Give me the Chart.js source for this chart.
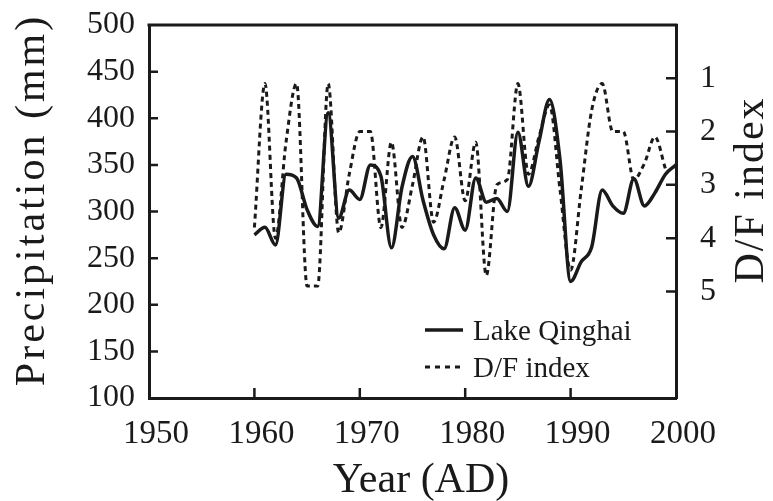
<!DOCTYPE html>
<html>
<head>
<meta charset="utf-8">
<script src="https://cdn.jsdelivr.net/npm/chart.js@4.4.1/dist/chart.umd.min.js"></script>
<style>
  html, body { margin: 0; padding: 0; background: #fff; }
  #wrap { width: 773px; height: 501px; }
</style>
</head>
<body>
<div id="wrap"><canvas id="chart" width="773" height="501"></canvas></div>
<script>
// yearly series
const years = [1960, 1961, 1962, 1963, 1964, 1965, 1966, 1967, 1968, 1969,
  1970, 1971, 1972, 1973, 1974, 1975, 1976, 1977, 1978, 1979,
  1980, 1981, 1982, 1983, 1984, 1985, 1986, 1987, 1988, 1989,
  1990, 1991, 1992, 1993, 1994, 1995, 1996, 1997, 1998, 1999, 2000];

// Lake Qinghai precipitation (mm)
const precip = [275, 283, 264, 340, 336, 302, 284, 406, 293, 323,
  313, 350, 338, 261, 326, 359, 312, 275, 260, 304,
  280, 336, 310, 314, 300, 385, 327, 375, 420, 355,
  225, 246, 262, 323, 306, 298, 335, 306, 320, 340, 350];

// D/F index (1960-1999)
const dfIndex = [3.8, 1.1, 4.0, 2.2, 1.1, 4.9, 4.9, 1.1, 3.9, 2.8,
  2.0, 2.0, 3.8, 2.2, 3.8, 3.0, 2.1, 3.7, 2.9, 2.1,
  3.3, 2.2, 4.7, 3.0, 2.9, 1.1, 2.8, 2.1, 1.5, 3.1,
  4.6, 3.1, 1.6, 1.1, 2.0, 2.0, 2.9, 2.6, 2.1, 2.7];

const xTicks = [1950, 1960, 1970, 1980, 1990, 2000];
const precipTicks = [100, 150, 200, 250, 300, 350, 400, 450, 500];
const dfTicks = [1, 2, 3, 4, 5];

const INK = "#1a1a1a";
const SERIF = "'Liberation Serif', 'Times New Roman', serif";

// fixed box sizes so the plot area sits where it does in the figure
function fixBox(w, h) {
  return (s) => {
    if (w) s.width = w;
    if (h) s.height = h;
    s.paddingTop = 0;
    s.paddingBottom = 0;
    s.paddingLeft = 0;
    s.paddingRight = 0;
  };
}

// inward tick marks, top edge, titles and the legend
const extras = {
  id: "extras",
  afterDraw(chart) {
    const { ctx, chartArea: a, scales } = chart;
    ctx.save();
    ctx.strokeStyle = INK;
    ctx.lineWidth = 3;
    ctx.beginPath();
    ctx.moveTo(a.left - 1.5, a.top);
    ctx.lineTo(a.right + 1.5, a.top);
    ctx.stroke();

    ctx.lineWidth = 2.5;
    ctx.beginPath();
    xTicks.slice(1, -1).forEach((v) => {
      const px = scales.x.getPixelForValue(v);
      ctx.moveTo(px, a.bottom);
      ctx.lineTo(px, a.bottom - 10);
    });
    precipTicks.slice(1, -1).forEach((v) => {
      const py = scales.y.getPixelForValue(v);
      ctx.moveTo(a.left, py);
      ctx.lineTo(a.left + 9, py);
    });
    dfTicks.forEach((v) => {
      const py = scales.y1.getPixelForValue(v);
      ctx.moveTo(a.right, py);
      ctx.lineTo(a.right - 10, py);
    });
    ctx.stroke();

    ctx.fillStyle = INK;
    ctx.textAlign = "center";
    ctx.textBaseline = "middle";
    ctx.font = "42px " + SERIF;
    ctx.fillText("Year (AD)", 421, 481);

    ctx.letterSpacing = "3px";
    ctx.save();
    ctx.translate(33, 200);
    ctx.rotate(-Math.PI / 2);
    ctx.fillText("Precipitation (mm)", 0, 0);
    ctx.restore();

    ctx.letterSpacing = "2px";
    ctx.save();
    ctx.translate(752, 190);
    ctx.rotate(-Math.PI / 2);
    ctx.fillText("D/F index", 0, 0);
    ctx.restore();
    ctx.letterSpacing = "0px";

    // legend
    ctx.lineWidth = 3.5;
    ctx.beginPath();
    ctx.moveTo(425, 330);
    ctx.lineTo(463, 330);
    ctx.stroke();
    ctx.lineWidth = 3;
    ctx.setLineDash([5, 5]);
    ctx.beginPath();
    ctx.moveTo(425, 367);
    ctx.lineTo(463, 367);
    ctx.stroke();
    ctx.setLineDash([]);
    ctx.textAlign = "left";
    ctx.font = "29px " + SERIF;
    ctx.fillText("Lake Qinghai", 473, 332);
    ctx.fillText("D/F index", 473, 369);
    ctx.restore();
  },
};

const ctx = document.getElementById("chart").getContext("2d");

new Chart(ctx, {
  type: "line",
  data: {
    datasets: [
      {
        label: "Lake Qinghai",
        data: years.map((yr, i) => ({ x: yr, y: precip[i] })),
        yAxisID: "y",
        borderColor: INK,
        borderWidth: 3.5,
        pointRadius: 0,
        cubicInterpolationMode: "monotone",
        fill: false,
      },
      {
        label: "D/F index",
        data: dfIndex.map((v, i) => ({ x: years[i], y: v })),
        yAxisID: "y1",
        borderColor: INK,
        borderWidth: 3,
        borderDash: [5, 4],
        pointRadius: 0,
        cubicInterpolationMode: "monotone",
        fill: false,
      },
    ],
  },
  options: {
    responsive: false,
    animation: false,
    layout: { padding: { top: 25, left: 0, right: 0, bottom: 0 } },
    plugins: {
      legend: { display: false },
      tooltip: { enabled: false },
    },
    scales: {
      x: {
        type: "linear",
        min: 1950,
        max: 2000,
        afterFit: fixBox(0, 103),
        afterBuildTicks: (s) => { s.ticks = xTicks.map((v) => ({ value: v })); },
        grid: { display: false, drawTicks: false },
        border: { display: true, color: INK, width: 3 },
        ticks: {
          padding: 17,
          labelOffset: 7,
          color: INK,
          font: { family: SERIF, size: 33 },
          maxRotation: 0,
          callback: (v) => String(v),
        },
      },
      y: {
        position: "left",
        min: 100,
        max: 500,
        afterFit: fixBox(149, 0),
        afterBuildTicks: (s) => { s.ticks = precipTicks.map((v) => ({ value: v })); },
        grid: { display: false, drawTicks: false },
        border: { display: true, color: INK, width: 3 },
        ticks: {
          padding: 14,
          color: INK,
          font: { family: SERIF, size: 32 },
        },
      },
      y1: {
        position: "right",
        reverse: true,
        min: 0,
        max: 7,
        afterFit: fixBox(97, 0),
        afterBuildTicks: (s) => { s.ticks = dfTicks.map((v) => ({ value: v })); },
        grid: { display: false, drawTicks: false },
        border: { display: true, color: INK, width: 3 },
        ticks: {
          padding: 24,
          color: INK,
          font: { family: SERIF, size: 32 },
        },
      },
    },
  },
  plugins: [extras],
});
</script>
</body>
</html>
